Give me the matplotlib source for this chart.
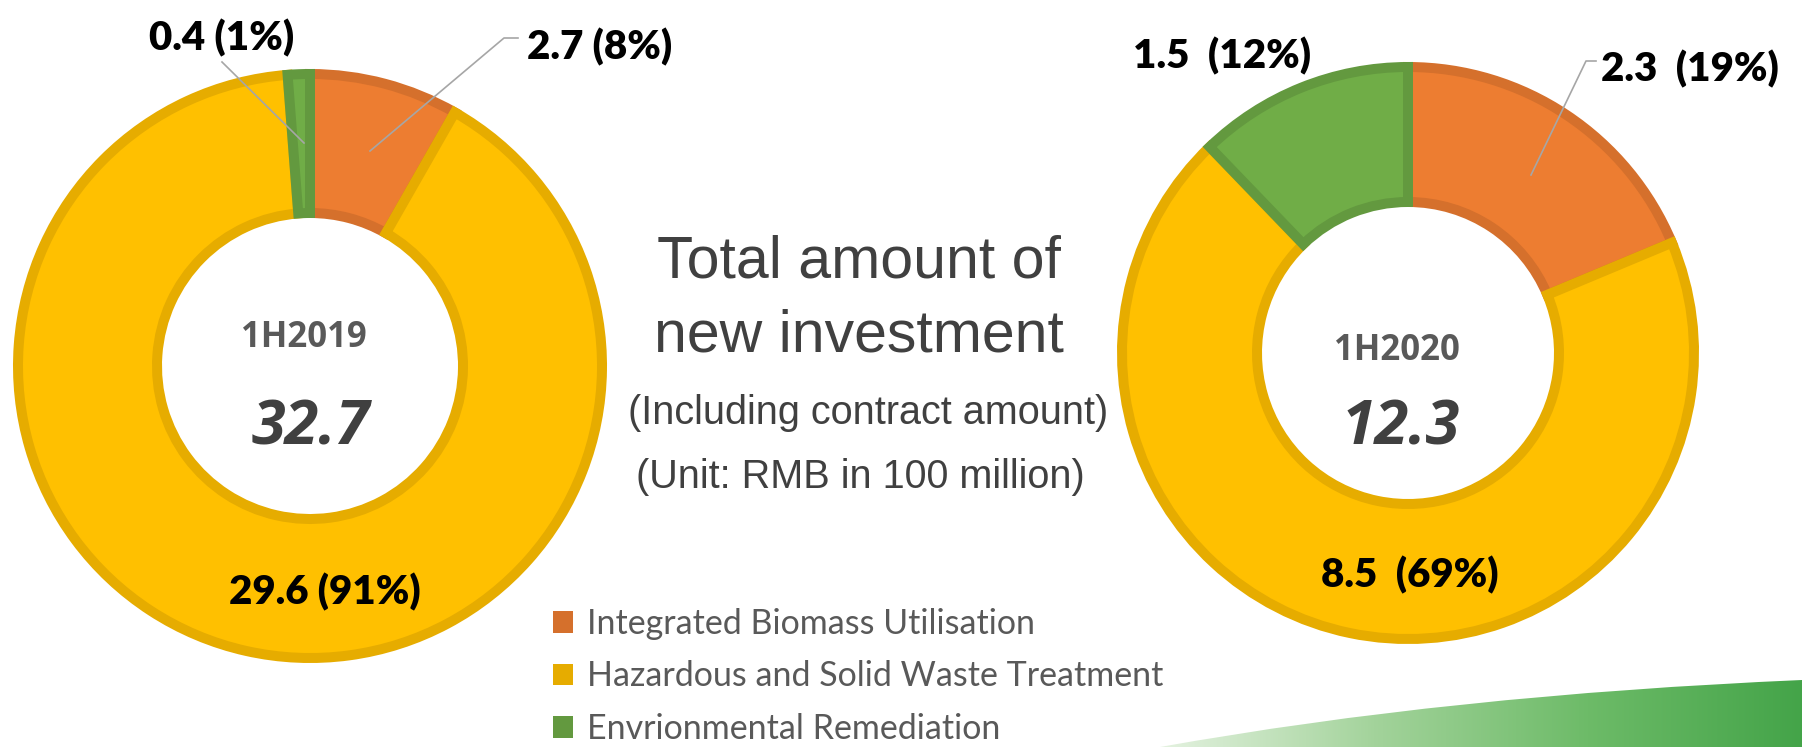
import numpy as np
import matplotlib
matplotlib.use("Agg")
import matplotlib.pyplot as plt
from matplotlib.patches import Patch, PathPatch
from matplotlib.path import Path
from matplotlib.colors import LinearSegmentedColormap

# ---- data ----
categories = ["Integrated Biomass Utilisation",
              "Hazardous and Solid Waste Treatment",
              "Envrionmental Remediation"]
values_2019 = [2.7, 29.6, 0.4]
values_2020 = [2.3, 8.5, 1.5]
period_labels = ["1H2019", "1H2020"]
center_title = ["Total amount of", "new investment"]
center_notes = ["(Including contract amount)", "(Unit: RMB in 100 million)"]

fill_colors = ["#ED7D31", "#FFC000", "#70AD47"]
edge_colors = ["#D5702C", "#E6AC00", "#63993F"]

W, H = 1802, 747
fig = plt.figure(figsize=(W / 100, H / 100), dpi=100)
ax = fig.add_axes([0, 0, 1, 1])


def Y(y):  # pixel-from-top -> data y
    return H - y


BORDER = 10  # px


def donut(values, cx, cy, r, r_in):
    wedges, _ = ax.pie(values, colors=fill_colors, startangle=90, counterclock=False,
                       radius=r - BORDER / 2, center=(cx, Y(cy)),
                       wedgeprops=dict(width=(r - r_in) - BORDER,
                                       linewidth=BORDER * 0.72))
    for w, ec in zip(wedges, edge_colors):
        w.set_edgecolor(ec)
        w.set_joinstyle("miter")
    return wedges


donut(values_2019, 310, 366, 297, 148)
donut(values_2020, 1408, 353, 291, 146)

ax.set_xlim(0, W)
ax.set_ylim(0, H)
ax.set_aspect("auto")
ax.axis("off")

lab_font = dict(family="Lato", fontweight="heavy", fontsize=29, color="black",
                ha="center", va="center")


def fmt(vals, i, sep=" "):
    tot = sum(vals)
    return f"{vals[i]}{sep}({round(vals[i] / tot * 100)}%)"


# left donut labels
ax.text(222, Y(38), fmt(values_2019, 2), **lab_font)
ax.text(600, Y(47), fmt(values_2019, 0), **lab_font)
ax.text(325, Y(592), fmt(values_2019, 1), **lab_font)
# right donut labels
ax.text(1222, Y(56), fmt(values_2020, 2, "  "), **lab_font)
ax.text(1690, Y(69), fmt(values_2020, 0, "  "), **lab_font)
ax.text(1410, Y(575), fmt(values_2020, 1, "  "), **lab_font)

# leader lines
lc = dict(color="#A6A6A6", lw=1.2)
ax.plot([518, 504, 370], [Y(38), Y(38), Y(151)], **lc)
ax.plot([222, 304], [Y(62), Y(143)], **lc)
ax.plot([1596, 1586, 1531], [Y(61), Y(61), Y(175)], **lc)

# center of donuts
ax.text(304, Y(338), period_labels[0], family="Open Sans", fontweight="bold",
        fontsize=25, color="#595959", ha="center", va="center")
ax.text(311, Y(429), f"{sum(values_2019):.1f}", family="Open Sans", fontweight="bold",
        style="italic", fontsize=44, color="#404040", ha="center", va="center")
ax.text(1397, Y(351), period_labels[1], family="Open Sans", fontweight="bold",
        fontsize=25, color="#595959", ha="center", va="center")
ax.text(1401, Y(429), f"{sum(values_2020):.1f}", family="Open Sans", fontweight="bold",
        style="italic", fontsize=44, color="#404040", ha="center", va="center")

# middle title
ax.text(859, Y(262), center_title[0], family="Liberation Sans", fontsize=42.5,
        color="#404040", ha="center", va="center")
ax.text(859, Y(336), center_title[1], family="Liberation Sans", fontsize=42.5,
        color="#404040", ha="center", va="center")
ax.text(868, Y(413), center_notes[0], family="Liberation Sans", fontsize=28.5,
        color="#404040", ha="center", va="center")
ax.text(860, Y(477), center_notes[1], family="Liberation Sans", fontsize=28.5,
        color="#404040", ha="center", va="center")

# legend
handles = [Patch(facecolor=c, edgecolor="none") for c in edge_colors]
leg = ax.legend(handles, categories, loc="upper left", bbox_to_anchor=(553, Y(608)),
                bbox_transform=ax.transData, frameon=False,
                prop=dict(family="Lato", size=24.5), labelcolor="#595959",
                handlelength=0.6, handleheight=0.6, handletextpad=0.4,
                labelspacing=0.6, borderpad=0, borderaxespad=0)

# decorative green swoosh (bottom right)
verts = [(1160, 0), (1450, 52), (1802, 67), (1802, 0), (1160, 0)]
codes = [Path.MOVETO, Path.CURVE3, Path.CURVE3, Path.LINETO, Path.CLOSEPOLY]
sw = PathPatch(Path(verts, codes), facecolor="none", edgecolor="none",
               transform=ax.transData)
ax.add_patch(sw)
cmap = LinearSegmentedColormap.from_list("g", ["#e4f2e0", "#a3d39b", "#6dbb68", "#44a449"])
im = ax.imshow(np.linspace(0, 1, 256)[None, :], cmap=cmap, aspect="auto",
               extent=[1160, 1802, 0, 70], zorder=0)
im.set_clip_path(sw)
ax.set_xlim(0, W)
ax.set_ylim(0, H)

fig.savefig("out.png", dpi=100, facecolor="white")
